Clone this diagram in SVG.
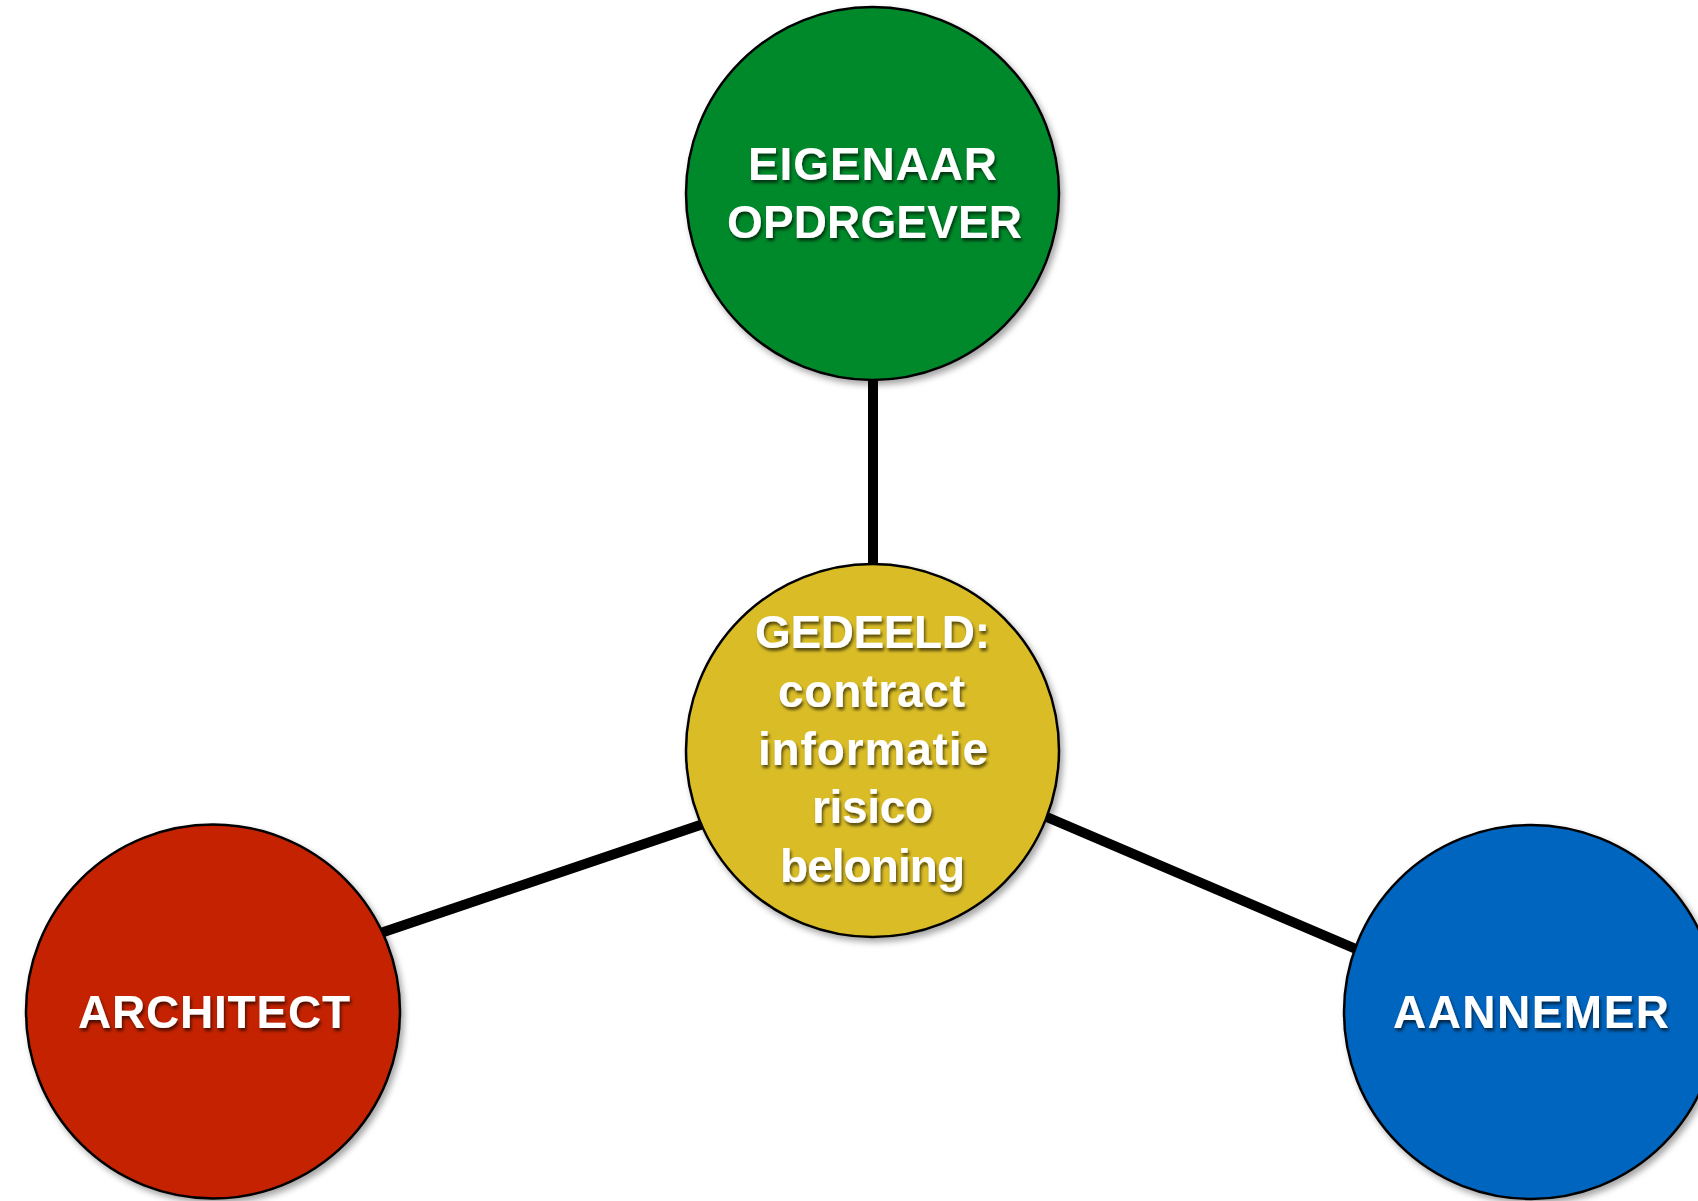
<svg xmlns="http://www.w3.org/2000/svg" width="1698" height="1201" viewBox="0 0 1698 1201">
<defs>
<filter id="cs" x="-20%" y="-20%" width="140%" height="140%">
<feDropShadow dx="3" dy="4" stdDeviation="3" flood-color="#000" flood-opacity="0.35"/>
</filter>
<filter id="ts" x="-10%" y="-30%" width="120%" height="160%">
<feDropShadow dx="1.5" dy="3" stdDeviation="1.5" flood-color="#000" flood-opacity="0.6"/>
</filter>
</defs>
<style>
.node circle{stroke:#000;stroke-width:2.5}
.lbl{font-family:"Liberation Sans",Arial,sans-serif;font-weight:bold;font-size:46px;fill:#fff;text-anchor:middle}
#connectors line{stroke:#000;stroke-width:10;stroke-linecap:butt}
</style>
<rect width="1698" height="1201" fill="#fff"/>
<g id="connectors">
<line x1="873" y1="370" x2="873" y2="575"/>
<line x1="360" y1="940" x2="715" y2="820"/>
<line x1="1035" y1="812" x2="1370" y2="955"/>
</g>
<g id="eigenaar" class="node">
<circle cx="872.5" cy="193.5" r="186.5" fill="#04892C" filter="url(#cs)"/>
<g filter="url(#ts)">
<text class="lbl" x="872.5" y="180" textLength="249" lengthAdjust="spacing">EIGENAAR</text>
<text class="lbl" x="874.5" y="238" textLength="295" lengthAdjust="spacing">OPDRGEVER</text>
</g>
</g>
<g id="gedeeld" class="node">
<circle cx="872.5" cy="750.5" r="186.5" fill="#DABD26" filter="url(#cs)"/>
<g filter="url(#ts)">
<text class="lbl" x="872.5" y="648" textLength="235" lengthAdjust="spacing">GEDEELD:</text>
<text class="lbl" x="871.5" y="707" textLength="187" lengthAdjust="spacing">contract</text>
<text class="lbl" x="873" y="765" textLength="230" lengthAdjust="spacing">informatie</text>
<text class="lbl" x="872.5" y="823" textLength="121" lengthAdjust="spacing">risico</text>
<text class="lbl" x="872.5" y="882" textLength="185" lengthAdjust="spacing">beloning</text>
</g>
</g>
<g id="architect" class="node">
<circle cx="213" cy="1011.5" r="187" fill="#C42406" filter="url(#cs)"/>
<text class="lbl" x="214" y="1028" textLength="272" lengthAdjust="spacing" filter="url(#ts)">ARCHITECT</text>
</g>
<g id="aannemer" class="node">
<circle cx="1531" cy="1012" r="187" fill="#0565BF" filter="url(#cs)"/>
<text class="lbl" x="1531" y="1028" textLength="276" lengthAdjust="spacing" filter="url(#ts)">AANNEMER</text>
</g>
</svg>
